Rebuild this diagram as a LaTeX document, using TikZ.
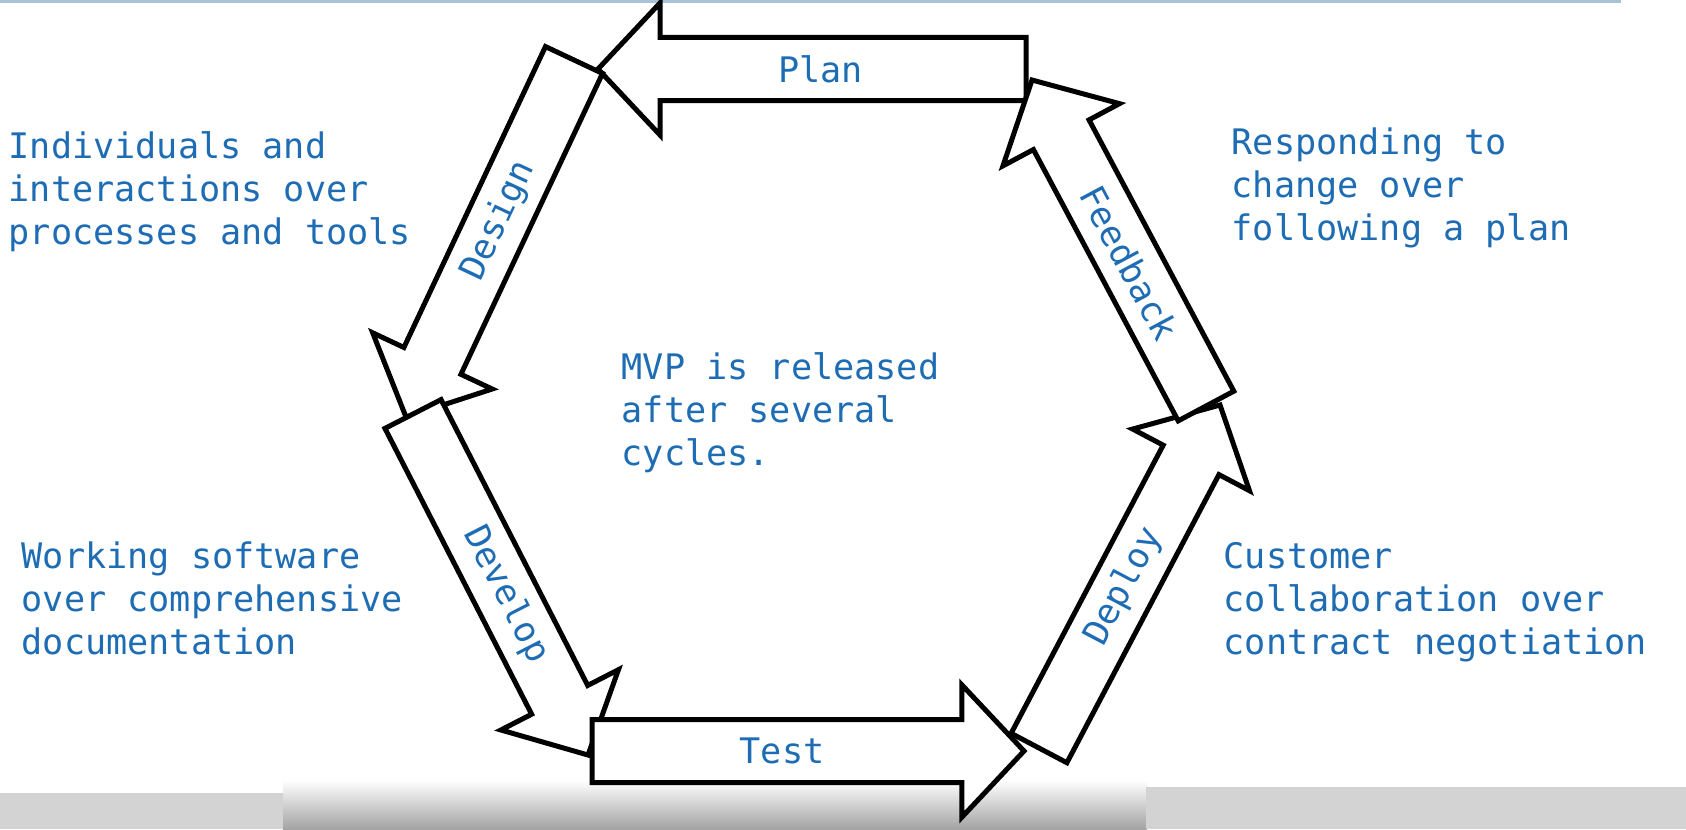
\documentclass[tikz,border=0pt]{standalone}
\usepackage{xcolor}
\usepackage{fontspec}
\setmonofont{DejaVu Sans Mono}
\usepackage{tikz}
\usetikzlibrary{calc,positioning}
\definecolor{agileblue}{HTML}{1E6DB4}
\definecolor{topline}{HTML}{A8C2D8}
\definecolor{barbox}{HTML}{D3D3D3}
\definecolor{bargrey}{HTML}{A4A4A4}
\newcommand{\shaftw}{0.315cm}
\newcommand{\headw}{0.66cm}
\newcommand{\headlen}{0.62cm}
\tikzset{
  every picture/.style = {
    x = 0.01cm,
    y = -0.01cm,
    line join = miter
  }
  , % block arrows of the cycle
  phase-arrow/.style = {
    draw = black,
    fill = white,
    line width = 0.05cm
  }
  , % labels inside the arrows
  phase-label/.style = {
    sloped,
    font = \ttfamily\fontsize{10pt}{12pt}\selectfont,
    text = agileblue,
    inner sep = 0pt
  }
  , % text blocks around the cycle
  value-text/.style = {
    anchor = north west,
    align = left,
    inner sep = 0pt,
    font = \ttfamily\fontsize{10pt}{12.2pt}\selectfont,
    text = agileblue
  }
}
\newcommand{\phasearrow}[3][0.5]{%
  \coordinate (#2-h) at ($(#2-b)!\headlen!(#2-a)$);
  \draw[phase-arrow] ($(#2-a)!\shaftw!90:(#2-b)$) -- ($(#2-h)!\shaftw!90:(#2-b)$)
    -- ($(#2-h)!\headw!90:(#2-b)$) -- (#2-b) -- ($(#2-h)!\headw!-90:(#2-b)$)
    -- ($(#2-h)!\shaftw!-90:(#2-b)$) -- ($(#2-a)!\shaftw!-90:(#2-b)$) -- cycle;
  \path (#2-a) -- (#2-b) node[phase-label, pos=#1] (#2) {#3};
}
\begin{document}
\begin{tikzpicture}
\useasboundingbox (0,0) rectangle (1686,829);
\fill[white] (0,0) rectangle (1686,829);
% screen edges
\draw[topline, line width=0.03cm] (0,1.5) -- (1621,1.5);
\shade[top color=white, bottom color=bargrey] (283,780) rectangle (1147,829);
\fill[barbox] (0,793) rectangle (283,829);
\fill[barbox] (1146,787) rectangle (1686,829);
% ends of the arrows
\coordinate (plan-a) at (1026,69);
\coordinate (plan-b) at (598,69);
\coordinate (design-a) at (574,60);
\coordinate (design-b) at (406,417);
\coordinate (develop-a) at (413,414);
\coordinate (develop-b) at (588,755);
\coordinate (test-a) at (592,751);
\coordinate (test-b) at (1024,751);
\coordinate (deploy-a) at (1039,748);
\coordinate (deploy-b) at (1220,405);
\coordinate (feedback-a) at (1206,406);
\coordinate (feedback-b) at (1032,80);
\phasearrow[0.48]{plan}{Plan}
\phasearrow[0.45]{design}{Design}
\phasearrow[0.53]{develop}{Develop}
\phasearrow[0.44]{test}{Test}
\phasearrow[0.47]{deploy}{Deploy}
\phasearrow[0.44]{feedback}{Feedback}
% values
\node[value-text] (individuals) at (8,131) {Individuals and\\interactions over\\processes and tools};
\node[value-text] (responding) at (1231,127) {Responding to\\change over\\following a plan};
\node[value-text] (working) at (21,541) {Working software\\over comprehensive\\documentation};
\node[value-text] (customer) at (1223,542) {Customer\\collaboration over\\contract negotiation};
\node[value-text] (mvp) at (621,352) {MVP is released\\after several\\cycles.};
\end{tikzpicture}
\end{document}
